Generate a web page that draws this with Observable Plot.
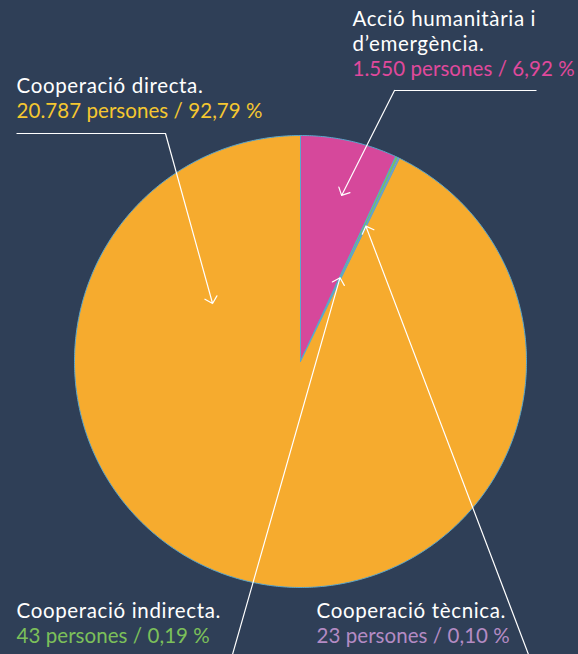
<!DOCTYPE html>
<html>
<head>
<meta charset="utf-8">
<script src="https://cdn.jsdelivr.net/npm/d3@7"></script>
<script src="https://cdn.jsdelivr.net/npm/@observablehq/plot@0.6"></script>
<style>
  html, body { margin: 0; padding: 0; background: #2f3f57; }
  #chart svg { display: block; }
  #chart svg g[fill="white"] text { letter-spacing: 0.65px; }
  #chart svg text[fill] { letter-spacing: 0.06px; }
</style>
</head>
<body>
<div id="chart"></div>
<script>
// ---- data (pie order, clockwise from 12 o'clock) ----
const categories = ["Acció humanitària i d’emergència", "Cooperació indirecta", "Cooperació tècnica", "Cooperació directa"];
const titles = ["Acció humanitària i\nd’emergència.", "Cooperació indirecta.", "Cooperació tècnica.", "Cooperació directa."];
const persons = [1550, 43, 23, 20787];
const sliceColors = ["#d6489b", "#7cc05a", "#b48bc4", "#f6ab2e"];
const labelColors = ["#e0499c", "#7cc05a", "#b48bc4", "#f5c730"];

// ---- layout ----
const W = 578, H = 654;
const cx = 300, cy = 361, R = 226;
const BG = "#2f3f57";
// label anchor (x, value-line baseline) and leader line (start, elbow, tip as angle-in-degrees / radius fraction)
const labelPos = [
  {x: 352, y: 75},
  {x: 16, y: 642},
  {x: 316, y: 642},
  {x: 16, y: 117}
];
const leaderPos = [
  {sx: 536, sy: 90, ex: 394, ey: 90, deg: 13.9, r: 0.757},
  {sx: 232, sy: 654, ex: 232, ey: 654, deg: null, r: 0.41},
  {sx: 528, sy: 654, ex: 528, ey: 654, deg: null, r: 0.665},
  {sx: 16, sy: 133, ex: 165, ey: 133, deg: 303.4, r: 0.466}
];

const locale = d3.formatLocale({decimal: ",", thousands: ".", grouping: [3], currency: ["", "€"]});
const fmtInt = locale.format(",d");
const fmtPct = locale.format(".2f");

const total = d3.sum(persons);
const rows = categories.map((c, i) => ({cat: c, persons: persons[i], i}));
const arcs = d3.pie().sort(null).value(d => d.persons)(rows);

// slice polygons sampled from pie angles
const slicePts = [];
arcs.forEach(a => {
  const n = Math.max(2, Math.ceil((a.endAngle - a.startAngle) / 0.01));
  slicePts.push({cat: a.data.cat, x: cx, y: cy});
  for (let k = 0; k <= n; k++) {
    const t = a.startAngle + (a.endAngle - a.startAngle) * k / n;
    slicePts.push({cat: a.data.cat, x: cx + R * Math.sin(t), y: cy - R * Math.cos(t)});
  }
  slicePts.push({cat: a.data.cat, x: cx, y: cy});
});

const leaders = arcs.map((a, i) => {
  const L = leaderPos[i];
  const ang = L.deg == null ? (a.startAngle + a.endAngle) / 2 : L.deg * Math.PI / 180;
  return {
    sx: L.sx, sy: L.sy, ex: L.ex, ey: L.ey,
    tx: cx + R * L.r * Math.sin(ang), ty: cy - R * L.r * Math.cos(ang)
  };
});

const labels = rows.map((d, i) => ({
  x: labelPos[i].x, y: labelPos[i].y,
  title: titles[i],
  value: `${fmtInt(d.persons)} persones / ${fmtPct(d.persons / total * 100)} %`,
  color: labelColors[i]
}));

const chart = Plot.plot({
  width: W, height: H,
  margin: 0,
  style: {background: BG, fontFamily: "Lato, sans-serif"},
  x: {domain: [0, W], range: [0, W], axis: null},
  y: {domain: [0, H], range: [0, H], axis: null},
  color: {domain: categories, range: sliceColors, legend: false},
  marks: [
    Plot.line(slicePts, {x: "x", y: "y", z: "cat", fill: "cat", stroke: "#5aa7cd", strokeWidth: 1, strokeLinejoin: "round"}),
    Plot.link(leaders, {x1: "sx", y1: "sy", x2: "ex", y2: "ey", stroke: "white", strokeWidth: 1.2}),
    Plot.arrow(leaders, {x1: "ex", y1: "ey", x2: "tx", y2: "ty", stroke: "white", strokeWidth: 1.2, headLength: 11, headAngle: 90}),
    Plot.text(labels, {x: "x", y: d => d.y - 25, text: "title", fill: "white", textAnchor: "start", lineAnchor: "bottom", fontSize: 20.5, lineHeight: 1.18}),
    Plot.text(labels, {x: "x", y: "y", text: "value", fill: "color", textAnchor: "start", lineAnchor: "bottom", fontSize: 20.5})
  ]
});
document.getElementById("chart").appendChild(chart);
</script>
</body>
</html>
